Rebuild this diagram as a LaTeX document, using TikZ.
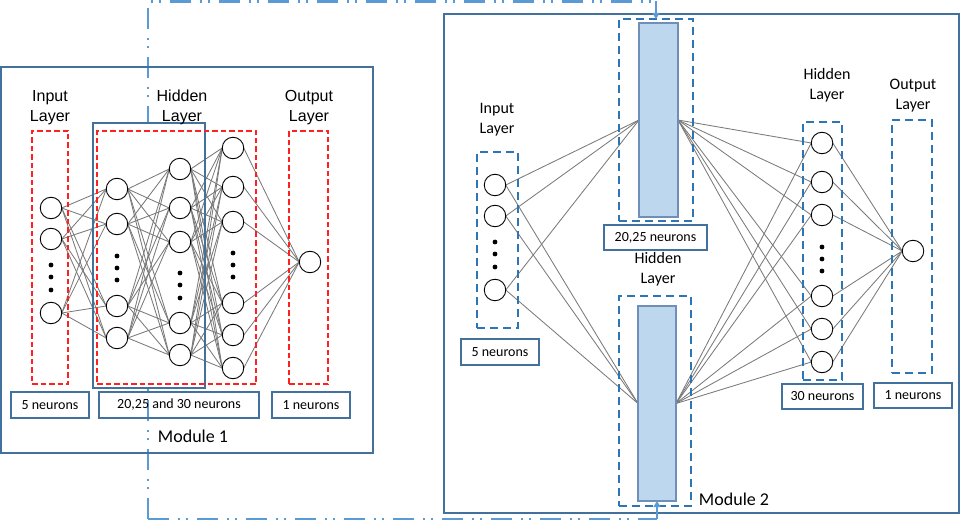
\documentclass[tikz,border=0pt]{standalone}
\usepackage{fontspec}
\setmainfont{Carlito}
\newfontfamily\arialf{Liberation Sans}
\usetikzlibrary{arrows.meta,backgrounds}
\definecolor{redd}{HTML}{FF2020}
\definecolor{bluedash}{HTML}{2E75B6}
\definecolor{framec}{HTML}{41719C}
\definecolor{ddc}{HTML}{5B9BD5}
\definecolor{barfill}{HTML}{BDD7EE}
\definecolor{barline}{HTML}{6F8FB8}
\definecolor{linkc}{HTML}{7A7A7A}
\begin{document}
\begin{tikzpicture}[x=1pt,y=-1pt,
  neuron/.style={circle,draw=black,fill=white,line width=0.9pt,minimum size=21.5pt,inner sep=0pt,outer sep=0pt},
  link/.style={draw=linkc,line width=0.85pt},
  vdot/.style={circle,fill=black,minimum size=4.8pt,inner sep=0pt},
  reddash/.style={draw=redd,line width=1.4pt,dash pattern=on 5.5pt off 3pt,inner sep=0pt,outer sep=0pt},
  bluedashbox/.style={draw=bluedash,line width=1.8pt,dash pattern=on 8pt off 5pt,inner sep=0pt,outer sep=0pt},
  frame/.style={draw=framec,line width=1.2pt},
  numbox/.style={draw=framec,line width=1.2pt,font=\fontsize{14}{16}\selectfont,inner sep=0pt},
  layerA/.style={align=center,font=\arialf\fontsize{16}{19.4}\selectfont,inner sep=0pt},
  layerB/.style={align=center,font=\fontsize{16}{20}\selectfont,inner sep=0pt},
  modlabel/.style={font=\fontsize{18}{20}\selectfont,inner sep=0pt},
  bar/.style={draw=barline,fill=barfill,line width=1.1pt,inner sep=0pt,outer sep=0pt},
  ddline/.style={draw=ddc,line width=2.2pt,dash pattern=on 21pt off 9pt on 2pt off 6pt on 2pt off 9pt},
  ddtip/.style={draw=ddc,line width=2pt,-{Triangle[length=6pt,width=7pt]}},
]
\useasboundingbox (0,0) rectangle (960,521);

\coordinate (c1) at (148,1.5);
\coordinate (c2) at (148,519);

% ================= Module 1 =================
\draw[frame] (1,67) rectangle (373,453);
\draw[draw=framec,line width=1.8pt] (93,123) rectangle (205,388);

\node[layerA] (m1in) at (50,107.5) {Input\\Layer};
\node[layerA] (m1hid) at (182,107.5) {Hidden\\Layer};
\node[layerA] (m1out) at (309,107.5) {Output\\Layer};

\node[reddash,minimum width=36pt,minimum height=253pt] (rin) at (50,257.5) {};
\node[reddash,minimum width=159pt,minimum height=253pt] (rhid) at (176.5,257.5) {};
\node[reddash,minimum width=39pt,minimum height=253pt] (rout) at (308.5,257.5) {};

\node[neuron] (i1) at (51,208) {};
\node[neuron] (i2) at (51,239) {};
\node[neuron] (i3) at (51,313) {};
\node[vdot] (id1) at (51,265) {};
\node[vdot] (id2) at (51,277) {};
\node[vdot] (id3) at (51,290) {};

\node[neuron] (a1) at (117,189) {};
\node[neuron] (a2) at (117,224) {};
\node[neuron] (a3) at (117,306) {};
\node[neuron] (a4) at (117,338) {};
\node[vdot] (ad1) at (117,256) {};
\node[vdot] (ad2) at (117,268) {};
\node[vdot] (ad3) at (117,280) {};

\node[neuron] (b1) at (180,169) {};
\node[neuron] (b2) at (180,208) {};
\node[neuron] (b3) at (180,242) {};
\node[neuron] (b4) at (180,323) {};
\node[neuron] (b5) at (180,355) {};
\node[vdot] (bd1) at (180,273) {};
\node[vdot] (bd2) at (180,285) {};
\node[vdot] (bd3) at (180,298) {};

\node[neuron] (g1) at (233,148) {};
\node[neuron] (g2) at (233,187) {};
\node[neuron] (g3) at (233,222) {};
\node[neuron] (g4) at (233,303) {};
\node[neuron] (g5) at (233,335) {};
\node[neuron] (g6) at (233,368) {};
\node[vdot] (gd1) at (233,253) {};
\node[vdot] (gd2) at (233,265) {};
\node[vdot] (gd3) at (233,277) {};

\node[neuron] (o1) at (310,262) {};

\node[numbox,minimum width=78pt,minimum height=26pt] (m1n1) at (50,405) {5 neurons};
\node[numbox,minimum width=160pt,minimum height=26pt] (m1n2) at (179,405) {20,25 and 30 neurons};
\node[numbox,minimum width=78pt,minimum height=26pt] (m1n3) at (311,405) {1 neurons};
\node[modlabel] (m1lab) at (193,436) {Module 1};

% ================= Module 2 =================
\draw[frame] (444,14) rectangle (959,513);
\node[layerB] (m2in) at (497,120) {Input\\Layer};
\node[layerB] (m2hidA) at (658,269.5) {Hidden\\Layer};
\node[layerB] (m2hidB) at (827,85.5) {Hidden\\Layer};
\node[layerB] (m2out) at (913,95.7) {Output\\Layer};

\node[bluedashbox,minimum width=41pt,minimum height=176pt] (inbox) at (497.5,240) {};
\node[bluedashbox,minimum width=74pt,minimum height=202pt] (ubox) at (656,120) {};
\node[bluedashbox,minimum width=72pt,minimum height=210pt] (lbox) at (655,401) {};
\node[bluedashbox,minimum width=39pt,minimum height=258pt] (hbox) at (822.5,251) {};
\node[bluedashbox,minimum width=40pt,minimum height=253pt] (obox) at (912,246.5) {};
\node[bar,minimum width=39pt,minimum height=194pt] (ub) at (658.5,120) {};
\node[bar,minimum width=38pt,minimum height=195pt] (lb) at (657,403.5) {};

\node[neuron] (p1) at (495,185) {};
\node[neuron] (p2) at (495,216) {};
\node[neuron] (p3) at (495,290) {};
\node[vdot] (pd1) at (495,242) {};
\node[vdot] (pd2) at (495,254) {};
\node[vdot] (pd3) at (495,267) {};

\node[neuron] (q1) at (822,143) {};
\node[neuron] (q2) at (822,182) {};
\node[neuron] (q3) at (822,215) {};
\node[neuron] (q4) at (822,296) {};
\node[neuron] (q5) at (822,329) {};
\node[neuron] (q6) at (822,362) {};
\node[vdot] (qd1) at (822,247) {};
\node[vdot] (qd2) at (822,259) {};
\node[vdot] (qd3) at (822,271) {};

\node[neuron] (r1) at (913,251) {};

\node[numbox,minimum width=78pt,minimum height=26pt] (m2n1) at (500,352) {5 neurons};
\node[numbox,minimum width=103pt,minimum height=25pt] (m2n2) at (655.5,237.5) {20,25 neurons};
\node[numbox,minimum width=81pt,minimum height=25pt] (m2n3) at (822.5,396.5) {30 neurons};
\node[numbox,minimum width=78pt,minimum height=25pt] (m2n4) at (913,395.5) {1 neurons};
\node[modlabel] (m2lab) at (734,499) {Module 2};

% arrows of the module link (solid short ends)
\draw[ddtip] (c1 -| ubox.north) -- (ubox.north);
\draw[ddtip] (c2 -| lb.south) -- (lb.south);

% ---------- background: link line, white panel, connections ----------
\begin{pgfonlayer}{background}
\draw[ddline] (c2) -- (c1) -- (c1 -| ubox.north);
\draw[ddline] (c2) -- (c2 -| lb.south);
\fill[white] (93,123) rectangle (205,388);
\foreach \s in {i1,i2,i3}{\foreach \t in {a1,a2,a3,a4}{\draw[link] (\s.east) -- (\t.west);}}
\foreach \s in {a1,a2,a3,a4}{\foreach \t in {b1,b2,b3,b4,b5}{\draw[link] (\s.east) -- (\t.west);}}
\foreach \s in {b1,b2,b3,b4,b5}{\foreach \t in {g1,g2,g3,g4,g5,g6}{\draw[link] (\s.east) -- (\t.west);}}
\foreach \s in {g1,g2,g3,g4,g5,g6}{\draw[link] (\s.east) -- (o1.west);}
\foreach \s in {p1,p2,p3}{\foreach \t in {ub,lb}{\draw[link] (\s.east) -- (\t.west);}}
\foreach \s in {ub,lb}{\foreach \t in {q1,q2,q3,q4,q5,q6}{\draw[link] (\s.east) -- (\t.west);}}
\foreach \s in {q1,q2,q3,q4,q5,q6}{\draw[link] (\s.east) -- (r1.west);}
\end{pgfonlayer}
\end{tikzpicture}
\end{document}
